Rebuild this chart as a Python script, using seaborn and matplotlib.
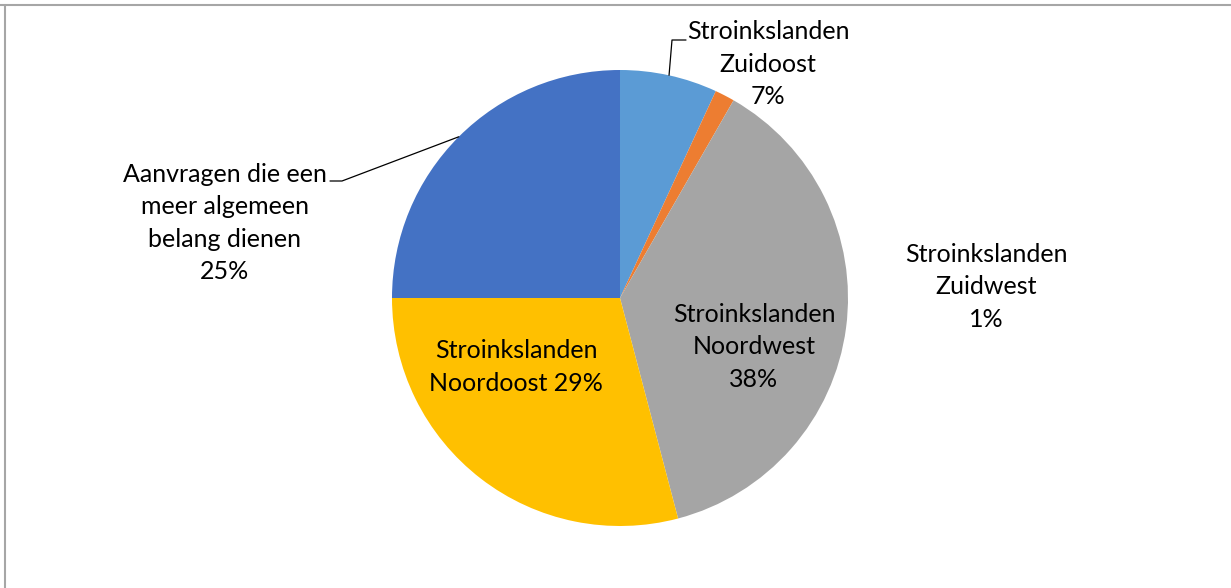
import numpy as np
import matplotlib.pyplot as plt
from matplotlib.lines import Line2D
import seaborn as sns

# slice data, clockwise from 12 o'clock
regions = ["Stroinkslanden Zuidoost", "Stroinkslanden Zuidwest",
           "Stroinkslanden Noordwest", "Stroinkslanden Noordoost",
           "Aanvragen die een meer algemeen belang dienen"]
shares = [6.9, 1.4, 37.6, 29.1, 25.0]
label_texts = ["Stroinkslanden\nZuidoost\n{}",
               "Stroinkslanden\nZuidwest\n{}",
               "Stroinkslanden\nNoordwest\n{}",
               "Stroinkslanden\nNoordoost {}",
               "Aanvragen die een\nmeer algemeen\nbelang dienen\n{}"]
colors = ["#5B9BD5", "#ED7D31", "#A5A5A5", "#FFC000", "#4472C4"]

sns.set_theme(style="white")
plt.rcParams['font.family'] = ['Lato', 'DejaVu Sans']

W, H = 1231, 588
cx, cy, R = 620, 298, 228  # pie centre / radius in pixels

fig = plt.figure(figsize=(W / 100, H / 100), dpi=100)
ax = fig.add_axes([0, 0, 1, 1])

wedges, _ = ax.pie(shares, colors=colors, startangle=90, counterclock=False,
                   radius=1, center=(0, 0), frame=True,
                   wedgeprops=dict(linewidth=0))
ax.set_xlim(-cx / R, (W - cx) / R)
ax.set_ylim((cy - H) / R, cy / R)
ax.set_aspect('auto')
ax.axis('off')

def px(x, y):
    return ((x - cx) / R, (cy - y) / R)

# label centres in pixel space, and whether a leader line is drawn
label_pos = [(768, 64), (986, 287), (754, 347), (516, 367), (225, 223)]
leaders = {0: [(686, 40), (672, 40)], 4: [(330, 181), (342, 181)]}

for i, (txt, v) in enumerate(zip(label_texts, shares)):
    x, y = px(*label_pos[i])
    ax.text(x, y, txt.format(f"{v:.0f}%"), ha='center', va='center',
            fontsize=18, linespacing=1.5, color='#000000')
    if i in leaders:
        w = wedges[i]
        mid = np.deg2rad((w.theta1 + w.theta2) / 2)
        ex, ey = np.cos(mid), np.sin(mid)
        pts = [px(*p) for p in leaders[i]] + [(ex, ey)]
        ax.plot([p[0] for p in pts], [p[1] for p in pts], color='black', lw=0.9)

# chart frame
fig.add_artist(Line2D([0, 1], [1 - 4.5 / H, 1 - 4.5 / H], color='#A6A6A6', lw=1.5,
                      transform=fig.transFigure))
fig.add_artist(Line2D([4.5 / W, 4.5 / W], [0, 1 - 4.5 / H], color='#A6A6A6', lw=1.5,
                      transform=fig.transFigure))

fig.savefig("out.png", dpi=100)
